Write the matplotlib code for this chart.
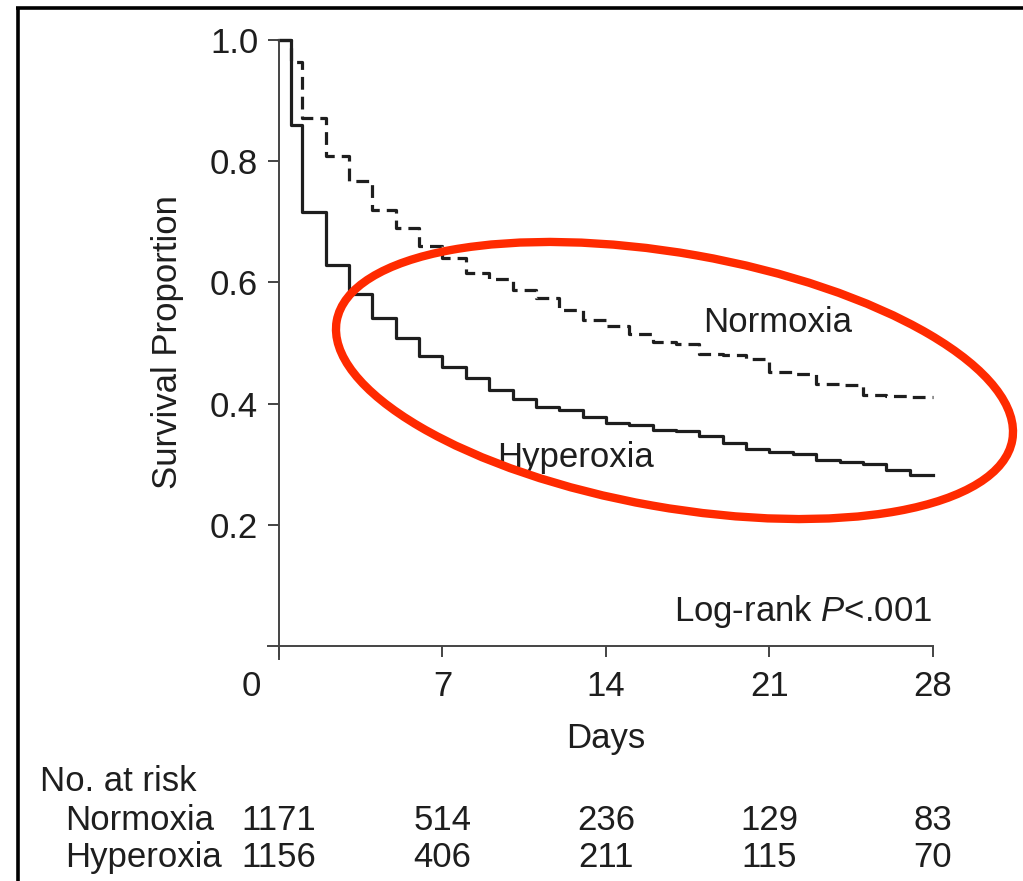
import matplotlib
matplotlib.use('Agg')
import matplotlib.pyplot as plt
from matplotlib.patches import Ellipse
from matplotlib.transforms import ScaledTranslation, blended_transform_factory

plt.rcParams['font.family'] = ['Liberation Sans', 'DejaVu Sans']
plt.rcParams['mathtext.fontset'] = 'custom'
plt.rcParams['mathtext.rm'] = 'Liberation Sans'
plt.rcParams['mathtext.it'] = 'Liberation Sans:italic'

# Kaplan-Meier steps
days = [0, 0.5] + list(range(1, 29))
normoxia = [1.0, 0.964, 0.871, 0.809, 0.767, 0.720, 0.689, 0.660, 0.641, 0.615,
            0.606, 0.588, 0.574, 0.555, 0.538, 0.528, 0.515, 0.502, 0.498, 0.481,
            0.480, 0.474, 0.452, 0.448, 0.433, 0.430, 0.414, 0.412, 0.411, 0.411]
hyperoxia = [1.0, 0.859, 0.716, 0.629, 0.581, 0.542, 0.509, 0.479, 0.460, 0.443,
             0.423, 0.408, 0.395, 0.389, 0.378, 0.368, 0.365, 0.357, 0.354, 0.347,
             0.335, 0.325, 0.320, 0.317, 0.307, 0.303, 0.300, 0.290, 0.282, 0.282]

tick_days = [0, 7, 14, 21, 28]
y_ticks = [0.2, 0.4, 0.6, 0.8, 1.0]
risk_groups = ['Normoxia', 'Hyperoxia']
risk_normoxia = [1171, 514, 236, 129, 83]
risk_hyperoxia = [1156, 406, 211, 115, 70]

W, H = 1023, 881
ink = '#1e1e1e'
axcol = '#444444'
fs = 25


def fy(py):
    # pixel row -> figure fraction
    return 1 - py / H


fig = plt.figure(figsize=(W / 100, H / 100), dpi=100)
ax = fig.add_axes([268 / W, fy(659), (933 - 268) / W, (659 - 40) / H])
ax.set_xlim(-0.47, 28)
ax.set_ylim(-0.0215, 1.0)

ax.step(days, normoxia, where='post', color=ink, lw=2.3,
        ls=(0, (4, 2.2)), clip_on=False)
ax.step(days, hyperoxia, where='post', color=ink, lw=2.3, clip_on=False)

for s in ['top', 'right']:
    ax.spines[s].set_visible(False)
ax.spines['left'].set_position(('data', 0))
ax.spines['bottom'].set_position(('data', 0))
for s in ['left', 'bottom']:
    ax.spines[s].set_color(axcol)
    ax.spines[s].set_linewidth(1.4)

ax.set_xticks(tick_days)
ax.set_xticklabels([str(d) for d in tick_days])
ax.set_yticks(y_ticks)
ax.set_yticklabels([f'{v:.1f}' for v in y_ticks])
ax.tick_params(direction='out', length=8, width=1.4, color=axcol,
               labelsize=fs, labelcolor=ink)
ax.tick_params(axis='x', pad=9)
ax.tick_params(axis='y', pad=7)
# the "0" label sits left of the origin in the original
lab0 = ax.get_xticklabels()[0]
lab0.set_transform(lab0.get_transform() + ScaledTranslation(-0.28, 0, fig.dpi_scale_trans))

# curve labels
ax.text(21.36, (646 - 332) / 605.5, 'Normoxia', ha='center', va='baseline', fontsize=fs, color=ink)
ax.text(12.71, (646 - 467) / 605.5, 'Hyperoxia', ha='center', va='baseline', fontsize=fs, color=ink)
ax.text(27.95, (646 - 621) / 605.5, r'Log-rank $\mathit{P}$<.001', ha='right', va='baseline',
        fontsize=fs, color=ink)

bt = blended_transform_factory(ax.transData, fig.transFigure)
fig.text(14, fy(748), 'Days', transform=bt, ha='center', va='baseline', fontsize=fs, color=ink)
fig.text(168 / W, fy(342), 'Survival Proportion', rotation=90, ha='center', va='center',
         fontsize=fs, color=ink)

# number at risk table
fig.text(40 / W, fy(791), 'No. at risk', ha='left', va='baseline', fontsize=fs, color=ink)
for name, counts, base in zip(risk_groups, [risk_normoxia, risk_hyperoxia], [830, 867]):
    fig.text(65 / W, fy(base), name, ha='left', va='baseline', fontsize=fs, color=ink)
    for d, n in zip(tick_days, counts):
        fig.text(d, fy(base), str(n), transform=bt, ha='center', va='baseline',
                 fontsize=fs, color=ink)

# overlay in pixel coords: red ellipse and the frame edges
ov = fig.add_axes([0, 0, 1, 1], zorder=5)
ov.set_xlim(0, W)
ov.set_ylim(H, 0)
ov.axis('off')
ov.patch.set_alpha(0)
ov.add_patch(Ellipse((674.5, 380.5), 686, 254, angle=10, fill=False,
                     edgecolor='#ff2a00', lw=6))
ov.plot([16, W], [8.3, 8.3], color='black', lw=2.6, solid_capstyle='butt')
ov.plot([17.7, 17.7], [6.5, H], color='black', lw=2.6, solid_capstyle='butt')

fig.savefig('out.png', dpi=100)
